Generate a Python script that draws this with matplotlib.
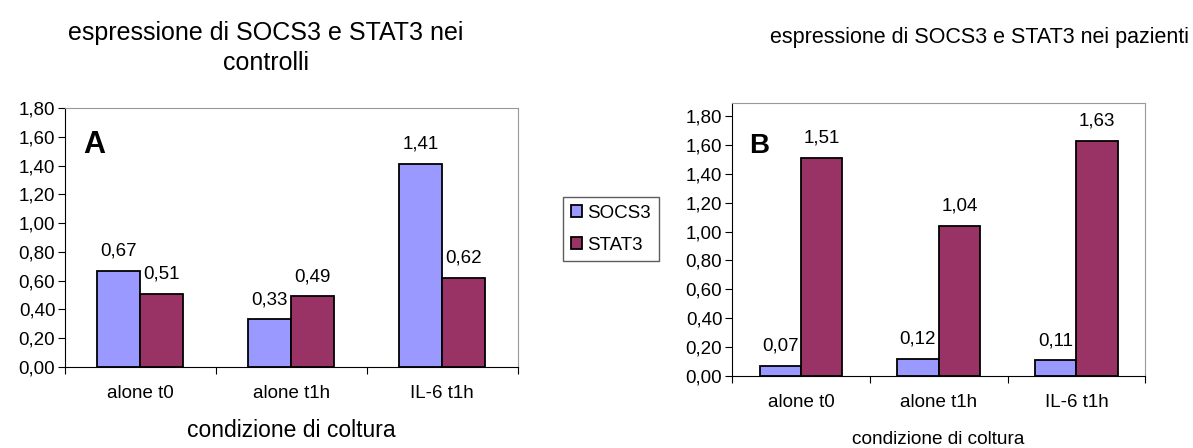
import matplotlib
matplotlib.use("Agg")
import matplotlib.pyplot as plt
import numpy as np

plt.rcParams['font.family'] = ['Liberation Sans', 'DejaVu Sans']

categories = ['alone t0', 'alone t1h', 'IL-6 t1h']
socs3_controlli = [0.67, 0.33, 1.41]
stat3_controlli = [0.51, 0.49, 0.62]
socs3_pazienti = [0.07, 0.12, 0.11]
stat3_pazienti = [1.51, 1.04, 1.63]
yticks = [0.0, 0.2, 0.4, 0.6, 0.8, 1.0, 1.2, 1.4, 1.6, 1.8]

c_socs = '#9999FF'
c_stat = '#993366'


def fmt(v):
    return ('%.2f' % v).replace('.', ',')


def draw(ax, socs, stat, width, letter, ytop, fs, lpos, lsize):
    x = np.arange(len(categories))
    b1 = ax.bar(x - width / 2, socs, width, color=c_socs, edgecolor='black', lw=1.3, label='SOCS3')
    b2 = ax.bar(x + width / 2, stat, width, color=c_stat, edgecolor='black', lw=1.3, label='STAT3')
    for bars, vals in ((b1, socs), (b2, stat)):
        for r, v in zip(bars, vals):
            ax.annotate(fmt(v), (r.get_x() + r.get_width() / 2, v), xytext=(0, 8),
                        textcoords='offset points', ha='center', va='bottom', fontsize=fs)
    ax.set_xlim(-0.5, 2.5)
    ax.set_ylim(0, ytop)
    ax.set_yticks(yticks)
    ax.set_yticklabels([fmt(v) for v in yticks], fontsize=fs)
    ax.set_xticks([-0.5, 0.5, 1.5, 2.5])
    ax.set_xticklabels([])
    ax.set_xticks(x, minor=True)
    ax.set_xticklabels(categories, minor=True, fontsize=fs)
    ax.tick_params(axis='x', which='minor', length=0, pad=13)
    ax.tick_params(axis='both', which='major', direction='out', length=5, pad=2)
    for s in ('top', 'right'):
        ax.spines[s].set_color('#999999')
    ax.text(lpos[0], lpos[1], letter, transform=ax.transAxes, fontsize=lsize,
            fontweight='bold', va='baseline')
    return b1, b2


fig = plt.figure(figsize=(11.93, 4.48), dpi=100)

axA = fig.add_axes([0.0545, 0.181, 0.3795, 0.578])
hA = draw(axA, socs3_controlli, stat3_controlli, 0.285, 'A', 1.8, 13.5, (0.04, 0.826), 22)
axA.set_xlabel('condizione di coltura', fontsize=16.5)
axA.xaxis.label.set_va('center')
axA.xaxis.set_label_coords(0.5, -64 / 259)
fig.text(266 / 1193, 1 - 48 / 448, 'espressione di SOCS3 e STAT3 nei\ncontrolli', ha='center',
         va='center', fontsize=18, linespacing=1.3)

axB = fig.add_axes([0.6136, 0.1607, 0.3464, 0.6093])
draw(axB, socs3_pazienti, stat3_pazienti, 0.3, 'B', 1.89, 13.5, (0.041, 0.817), 20)
axB.set_xlabel('condizione di coltura', fontsize=13.7)
axB.xaxis.label.set_va('center')
axB.xaxis.set_label_coords(0.5, -64 / 273)
fig.text(979 / 1193, 1 - 38 / 448, 'espressione di SOCS3 e STAT3 nei pazienti', ha='center',
         va='center', fontsize=15.5)

fig.legend(hA, ['SOCS3', 'STAT3'], loc='upper left', bbox_to_anchor=(563 / 1193, 1 - 197 / 448),
           fontsize=13.5, frameon=True, fancybox=False, edgecolor='#333333',
           handlelength=0.6, handleheight=0.6, handletextpad=0.3, borderpad=0.4,
           labelspacing=0.8, borderaxespad=0)

fig.savefig('out.png', dpi=100)
